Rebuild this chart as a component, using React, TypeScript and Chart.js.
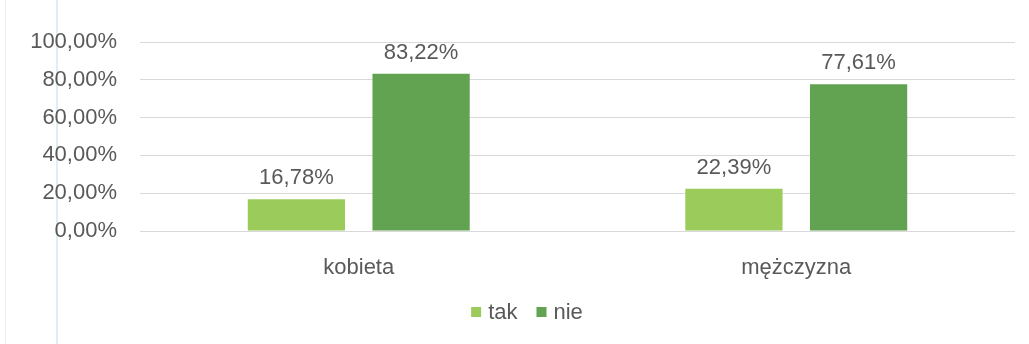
import React, { useEffect, useRef } from "react";
import { Chart, registerables } from "chart.js";

Chart.register(...registerables);

const categories = ["kobieta", "mężczyzna"];
const seriesNames = ["tak", "nie"];
const takValues = [16.78, 22.39];
const nieValues = [83.22, 77.61];
const seriesColors = ["#9bcb5b", "#62a352"];

const FONT = "'Liberation Sans', Arial, sans-serif";
const TEXT = "#595959";
const FS = 22;

const fmt = (v: number) => v.toFixed(2).replace(".", ",") + "%";

const dataLabels = {
  id: "dataLabels",
  afterDatasetsDraw(chart: any) {
    const ctx = chart.ctx;
    ctx.save();
    ctx.font = `${FS}px ${FONT}`;
    ctx.fillStyle = TEXT;
    ctx.textAlign = "center";
    ctx.textBaseline = "alphabetic";
    chart.data.datasets.forEach((ds: any, di: number) => {
      const meta = chart.getDatasetMeta(di);
      meta.data.forEach((el: any, i: number) => {
        ctx.fillText(fmt(ds.data[i]), el.x, el.y - 15);
      });
    });
    ctx.restore();
  },
};

const customLegend = {
  id: "customLegend",
  afterDraw(chart: any) {
    const ctx = chart.ctx;
    ctx.save();
    ctx.font = `${FS}px ${FONT}`;
    ctx.textBaseline = "middle";
    ctx.textAlign = "left";
    const box = 10, gap = 7, spacing = 19;
    const items = chart.data.datasets.map((ds: any) => ({
      label: ds.label,
      color: ds.backgroundColor,
      w: ctx.measureText(ds.label).width,
    }));
    const total = items.reduce((a: number, it: any) => a + box + gap + it.w, 0) + spacing * (items.length - 1);
    let x = 527 - total / 2;
    const cy = 312;
    items.forEach((it: any) => {
      ctx.fillStyle = it.color;
      ctx.fillRect(x, cy - box / 2, box, box);
      x += box + gap;
      ctx.fillStyle = TEXT;
      ctx.fillText(it.label, x, cy + 1);
      x += it.w + spacing;
    });
    ctx.restore();
  },
};

const sideLine = {
  id: "sideLine",
  beforeDraw(chart: any) {
    const ctx = chart.ctx;
    ctx.save();
    ctx.strokeStyle = "#d3e8ee";
    ctx.lineWidth = 1.5;
    ctx.beginPath();
    ctx.moveTo(57, 0);
    ctx.lineTo(57, chart.height);
    ctx.stroke();
    ctx.strokeStyle = "#eeeeee";
    ctx.lineWidth = 1;
    ctx.beginPath();
    ctx.moveTo(5.5, 0);
    ctx.lineTo(5.5, chart.height);
    ctx.stroke();
    ctx.restore();
  },
};

export default function App() {
  const ref = useRef<HTMLCanvasElement>(null);
  useEffect(() => {
    document.body.style.margin = "0";
    const chart = new Chart(ref.current!, {
      type: "bar",
      data: {
        labels: categories,
        datasets: [
          { label: seriesNames[0], data: takValues, backgroundColor: seriesColors[0] },
          { label: seriesNames[1], data: nieValues, backgroundColor: seriesColors[1] },
        ],
      },
      options: {
        responsive: false,
        animation: false,
        datasets: { bar: { categoryPercentage: 0.57, barPercentage: 0.78 } },
        layout: { padding: { top: 42, right: 14, left: 0, bottom: 53 } },
        plugins: {
          tooltip: { enabled: false },
          legend: { display: false },
        },
        scales: {
          x: {
            grid: { display: false },
            border: { display: false },
            ticks: { font: { family: FONT, size: FS }, color: TEXT, padding: 16 },
            afterFit: (s: any) => {
              s.height = 60;
            },
          },
          y: {
            min: 0,
            max: 100,
            ticks: {
              stepSize: 20,
              font: { family: FONT, size: FS },
              color: TEXT,
              padding: 23,
              callback: (v: any) => fmt(Number(v)),
            },
            grid: { color: "#d9d9d9", drawTicks: false },
            border: { display: false },
            afterFit: (s: any) => {
              s.width = 140;
            },
          },
        },
      },
      plugins: [sideLine, dataLabels, customLegend],
    });
    return () => chart.destroy();
  }, []);
  return (
    <div style={{ position: "absolute", left: 0, top: 0, width: 1029, height: 344, background: "#fff" }}>
      <canvas ref={ref} width={1029} height={344} />
    </div>
  );
}
